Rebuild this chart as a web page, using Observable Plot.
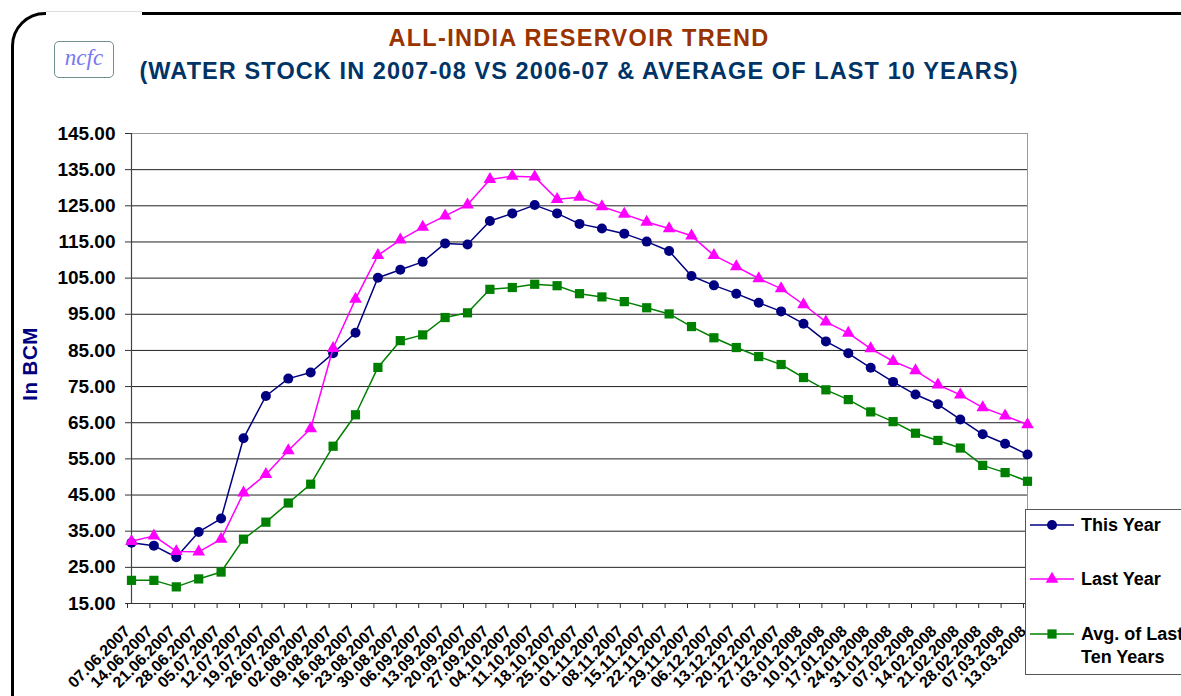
<!DOCTYPE html>
<html>
<head>
<meta charset="utf-8">
<script src="https://cdn.jsdelivr.net/npm/d3@7"></script>
<script src="https://cdn.jsdelivr.net/npm/@observablehq/plot@0.6"></script>
<style>
  html, body { margin: 0; padding: 0; background: #fff; }
  body { width: 1181px; height: 696px; overflow: hidden; position: relative; font-family: "Liberation Sans", Arial, sans-serif; }
  #frame { position: absolute; left: 11px; top: 12px; width: 1210px; height: 740px; border: 3px solid #000; border-radius: 34px; box-sizing: border-box; }
  #gap { position: absolute; left: 46px; top: 11px; width: 96px; height: 5px; background: #fff; border-top: 1px solid #ddd; box-sizing: border-box; }
  #chart { position: absolute; left: 0; top: 0; }
  .title { position: absolute; left: 0; width: 1158px; text-align: center; font-weight: bold; white-space: nowrap; font-size: 23.5px; line-height: 23.5px; }
  #t1 { top: 27px; color: #993300; letter-spacing: 1.3px; }
  #t2 { top: 60px; color: #003366; letter-spacing: 1.1px; }
  #logo { position: absolute; left: 54px; top: 41px; width: 60px; height: 37px; border: 1px solid #6f8f8f; border-radius: 5px; box-sizing: border-box; background: #fff; color: #7878f0; font-family: "Liberation Serif", "DejaVu Serif", serif; font-style: italic; font-size: 23px; text-align: center; line-height: 31px; }
  #ylab { position: absolute; left: 30px; top: 364px; transform: translate(-50%, -50%) rotate(-90deg); font-weight: bold; font-size: 20.5px; line-height: 20.5px; color: #000080; white-space: nowrap; letter-spacing: 0.5px; }
  #legend { position: absolute; left: 1025px; top: 509px; width: 170px; height: 166px; border: 1px solid #555; background: #fff; box-sizing: border-box; }
  .item { position: absolute; left: 4px; display: flex; align-items: flex-start; font-weight: bold; font-size: 18px; color: #000; line-height: 23px; white-space: nowrap; }
  .item svg { margin-top: 4px; margin-right: 5px; flex: none; }
</style>
</head>
<body>
<div id="frame"></div>
<div id="gap"></div>
<div id="chart"></div>
<div id="logo">ncfc</div>
<div class="title" id="t1">ALL-INDIA RESERVOIR TREND</div>
<div class="title" id="t2">(WATER STOCK IN 2007-08 VS 2006-07 &amp; AVERAGE OF LAST 10 YEARS)</div>
<div id="ylab">In BCM</div>
<div id="legend"></div>
<script>
const dates = ["07.06.2007","14.06.2007","21.06.2007","28.06.2007","05.07.2007","12.07.2007","19.07.2007","26.07.2007","02.08.2007","09.08.2007","16.08.2007","23.08.2007","30.08.2007","06.09.2007","13.09.2007","20.09.2007","27.09.2007","04.10.2007","11.10.2007","18.10.2007","25.10.2007","01.11.2007","08.11.2007","15.11.2007","22.11.2007","29.11.2007","06.12.2007","13.12.2007","20.12.2007","27.12.2007","03.01.2008","10.01.2008","17.01.2008","24.01.2008","31.01.2008","07.02.2008","14.02.2008","21.02.2008","28.02.2008","07.03.2008","13.03.2008"];
const thisYear = [31.8,31.0,27.8,34.8,38.5,60.7,72.4,77.2,78.9,84.2,89.9,105.1,107.3,109.5,114.6,114.3,120.8,122.9,125.2,122.9,120.0,118.7,117.3,115.1,112.5,105.6,103.0,100.7,98.2,95.8,92.4,87.5,84.2,80.2,76.3,72.8,70.1,65.9,61.8,59.2,56.2];
const lastYear = [32.2,33.7,29.4,29.3,32.8,45.6,50.7,57.3,63.4,85.6,99.2,111.3,115.6,119.1,122.2,125.3,132.3,133.2,133.0,126.8,127.4,124.8,122.7,120.5,118.7,116.7,111.3,108.2,104.9,102.1,97.7,92.9,89.8,85.5,82.0,79.4,75.5,72.7,69.2,66.9,64.5];
const avgTen = [21.4,21.4,19.6,21.8,23.7,32.8,37.5,42.8,48.0,58.5,67.2,80.3,87.7,89.3,94.1,95.4,101.9,102.4,103.3,102.9,100.7,99.8,98.5,96.8,95.1,91.6,88.5,85.8,83.3,81.1,77.5,74.1,71.4,68.0,65.3,62.1,60.1,58.0,53.2,51.2,48.8];
const yTicks = [15,25,35,45,55,65,75,85,95,105,115,125,135,145];
const seriesNames = ["This Year", "Last Year", "Avg. of Last Ten Years"];
const seriesLegend = [["This Year"], ["Last Year"], ["Avg. of Last", "Ten Years"]];
const seriesColors = ["#000080", "#FF00FF", "#008000"];
const seriesSymbols = ["circle", "triangle", "square"];
const seriesR = [5, 4.7, 5.2];

const seriesValues = [thisYear, lastYear, avgTen];
const rows = seriesValues.flatMap((vals, s) => vals.map((v, i) => ({date: dates[i], value: v, s})));

const marks = [
  Plot.ruleY(yTicks.filter(t => t > 15 && t < 145), {stroke: "#222", strokeWidth: 1}),
  Plot.ruleY([145], {stroke: "#999", strokeWidth: 1}),
  Plot.ruleX([dates[dates.length - 1]], {stroke: "#999", strokeWidth: 1}),
  Plot.ruleX([dates[0]], {stroke: "#444", strokeWidth: 1.2}),
  Plot.ruleY([15], {stroke: "#333", strokeWidth: 1.2}),
  Plot.axisY({ticks: yTicks, tickFormat: d3.format(".2f"), tickSize: 6, tickPadding: 10, fontSize: 19, fontWeight: "bold", stroke: "#333", fill: "#000"}),
  Plot.axisX({tickRotate: -45, tickSize: 5, tickPadding: 20, dx: -4, fontSize: 16, fontWeight: "bold", stroke: "#333", fill: "#000"})
];
seriesValues.forEach((vals, s) => {
  const data = rows.filter(r => r.s === s);
  marks.push(Plot.line(data, {x: "date", y: "value", stroke: seriesColors[s], strokeWidth: 1.5}));
  marks.push(Plot.dot(data, {x: "date", y: "value", symbol: seriesSymbols[s], r: seriesR[s], fill: seriesColors[s], stroke: "none"}));
});

const chart = Plot.plot({
  width: 1181,
  height: 696,
  marginLeft: 131,
  marginRight: 154,
  marginTop: 133,
  marginBottom: 93,
  x: {type: "point", domain: dates, padding: 0, round: false, label: null, axis: null},
  y: {domain: [15, 145], label: null, axis: null},
  style: {fontFamily: "'Liberation Sans', Arial, sans-serif", background: "transparent", overflow: "visible"},
  marks
});
document.getElementById("chart").appendChild(chart);

// legend
const legend = document.getElementById("legend");
const tops = [4, 58, 113];
seriesLegend.forEach((lines, s) => {
  const item = document.createElement("div");
  item.className = "item";
  item.style.top = tops[s] + "px";
  const svg = d3.create("svg").attr("width", 46).attr("height", 14);
  svg.append("line").attr("x1", 0).attr("x2", 44).attr("y1", 7).attr("y2", 7).attr("stroke", seriesColors[s]).attr("stroke-width", 1.5);
  const sym = {circle: d3.symbolCircle, triangle: d3.symbolTriangle, square: d3.symbolSquare}[seriesSymbols[s]];
  svg.append("path").attr("transform", "translate(22,7)").attr("d", d3.symbol(sym, Math.PI * seriesR[s] * seriesR[s])()).attr("fill", seriesColors[s]);
  item.appendChild(svg.node());
  const txt = document.createElement("div");
  txt.innerHTML = lines.join("<br>");
  item.appendChild(txt);
  legend.appendChild(item);
});
</script>
</body>
</html>
